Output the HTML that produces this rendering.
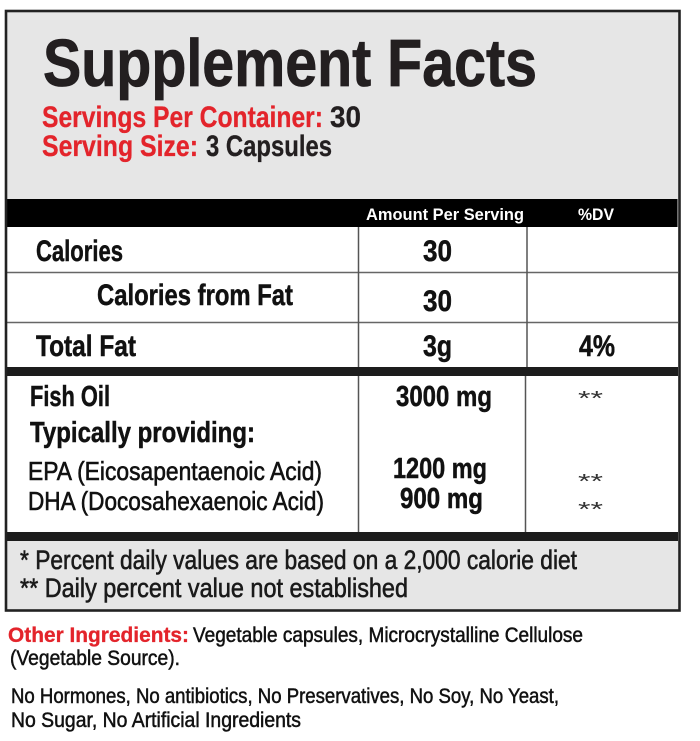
<!DOCTYPE html>
<html>
<head>
<meta charset="utf-8">
<style>
html,body{margin:0;padding:0;background:#fff;}
svg{display:block;}
text{font-family:"Liberation Sans","DejaVu Sans",sans-serif;}
.b{font-weight:bold;}
</style>
</head>
<body>
<svg width="700" height="741" viewBox="0 0 700 741" xmlns="http://www.w3.org/2000/svg">
  <rect x="0" y="0" width="700" height="741" fill="#ffffff"/>
  <rect x="6" y="11" width="673.5" height="599.5" fill="#e6e6e6"/>
  <rect x="7" y="199" width="670.5" height="28" fill="#000"/>
  <rect x="7" y="227" width="671" height="140" fill="#fff"/>
  <rect x="7" y="367" width="671" height="9" fill="#1c1c1c"/>
  <rect x="7" y="376" width="671" height="156" fill="#fff"/>
  <rect x="7" y="532" width="671" height="9" fill="#1c1c1c"/>
  <line x1="7" y1="272.5" x2="678" y2="272.5" stroke="#666" stroke-width="1.5"/>
  <line x1="7" y1="322.5" x2="678" y2="322.5" stroke="#666" stroke-width="1.5"/>
  <line x1="358.5" y1="227" x2="358.5" y2="367" stroke="#555" stroke-width="1.5"/>
  <line x1="527" y1="227" x2="527" y2="367" stroke="#555" stroke-width="1.5"/>
  <line x1="358.5" y1="376" x2="358.5" y2="532" stroke="#555" stroke-width="1.5"/>
  <line x1="525.5" y1="376" x2="525.5" y2="532" stroke="#555" stroke-width="1.5"/>
  <rect x="6" y="11" width="673.5" height="599.5" fill="none" stroke="#222" stroke-width="2.6"/>

  <text class="b" x="43" y="86" font-size="67" fill="#231f20" stroke="#231f20" stroke-width="0.8" textLength="494" lengthAdjust="spacingAndGlyphs">Supplement Facts</text>
  <text class="b" x="42" y="127" font-size="30" fill="#e3242b" stroke="#e3242b" stroke-width="0.3" textLength="281" lengthAdjust="spacingAndGlyphs">Servings Per Container:</text>
  <text class="b" x="330" y="127" font-size="30" fill="#231f20" stroke="#231f20" stroke-width="0.3" textLength="31" lengthAdjust="spacingAndGlyphs">30</text>
  <text class="b" x="42" y="156" font-size="30" fill="#e3242b" stroke="#e3242b" stroke-width="0.3" textLength="156" lengthAdjust="spacingAndGlyphs">Serving Size:</text>
  <text class="b" x="206" y="156" font-size="30" fill="#231f20" stroke="#231f20" stroke-width="0.3" textLength="126" lengthAdjust="spacingAndGlyphs">3 Capsules</text>

  <text class="b" x="366" y="220" font-size="17" fill="#fff" textLength="158" lengthAdjust="spacingAndGlyphs">Amount Per Serving</text>
  <text class="b" x="578" y="220" font-size="17" fill="#fff" textLength="36" lengthAdjust="spacingAndGlyphs">%DV</text>

  <text class="b" x="36" y="261" font-size="30" fill="#111" stroke="#111" stroke-width="0.5" textLength="87" lengthAdjust="spacingAndGlyphs">Calories</text>
  <text class="b" x="423" y="261" font-size="30" fill="#111" stroke="#111" stroke-width="0.5" textLength="29" lengthAdjust="spacingAndGlyphs">30</text>

  <text class="b" x="97" y="305" font-size="30" fill="#111" stroke="#111" stroke-width="0.5" textLength="196" lengthAdjust="spacingAndGlyphs">Calories from Fat</text>
  <text class="b" x="423" y="311" font-size="30" fill="#111" stroke="#111" stroke-width="0.5" textLength="29" lengthAdjust="spacingAndGlyphs">30</text>

  <text class="b" x="36" y="356" font-size="30" fill="#111" stroke="#111" stroke-width="0.5" textLength="100" lengthAdjust="spacingAndGlyphs">Total Fat</text>
  <text class="b" x="423" y="356" font-size="30" fill="#111" stroke="#111" stroke-width="0.5" textLength="29" lengthAdjust="spacingAndGlyphs">3g</text>
  <text class="b" x="579" y="356" font-size="30" fill="#111" stroke="#111" stroke-width="0.5" textLength="36" lengthAdjust="spacingAndGlyphs">4%</text>

  <text class="b" x="30" y="406" font-size="29" fill="#111" stroke="#111" stroke-width="0.5" textLength="80" lengthAdjust="spacingAndGlyphs">Fish Oil</text>
  <text class="b" x="396" y="406" font-size="29" fill="#111" stroke="#111" stroke-width="0.5" textLength="96" lengthAdjust="spacingAndGlyphs">3000 mg</text>
  <text x="578" y="405" font-size="20" fill="#333" textLength="25" lengthAdjust="spacingAndGlyphs">**</text>

  <text class="b" x="30" y="442" font-size="29" fill="#111" stroke="#111" stroke-width="0.5" textLength="225" lengthAdjust="spacingAndGlyphs">Typically providing:</text>

  <text x="28" y="480" font-size="26" fill="#111" stroke="#111" stroke-width="0.6" textLength="294" lengthAdjust="spacingAndGlyphs">EPA (Eicosapentaenoic Acid)</text>
  <text class="b" x="393" y="478" font-size="29" fill="#111" stroke="#111" stroke-width="0.5" textLength="94" lengthAdjust="spacingAndGlyphs">1200 mg</text>
  <text x="578" y="488" font-size="20" fill="#333" textLength="25" lengthAdjust="spacingAndGlyphs">**</text>

  <text x="28" y="510" font-size="26" fill="#111" stroke="#111" stroke-width="0.6" textLength="296" lengthAdjust="spacingAndGlyphs">DHA (Docosahexaenoic Acid)</text>
  <text class="b" x="400" y="508" font-size="29" fill="#111" stroke="#111" stroke-width="0.5" textLength="83" lengthAdjust="spacingAndGlyphs">900 mg</text>
  <text x="578" y="516" font-size="20" fill="#333" textLength="25" lengthAdjust="spacingAndGlyphs">**</text>

  <text x="20" y="569" font-size="27" fill="#1a1a1a" stroke="#1a1a1a" stroke-width="0.6" textLength="557" lengthAdjust="spacingAndGlyphs">* Percent daily values are based on a 2,000 calorie diet</text>
  <text x="20" y="597" font-size="27" fill="#1a1a1a" stroke="#1a1a1a" stroke-width="0.6" textLength="388" lengthAdjust="spacingAndGlyphs">** Daily percent value not established</text>

  <text class="b" x="8" y="642" font-size="21" fill="#e3242b" stroke="#e3242b" stroke-width="0.3" textLength="181" lengthAdjust="spacingAndGlyphs">Other Ingredients:</text>
  <text x="193" y="642" font-size="21" fill="#111" stroke="#111" stroke-width="0.5" textLength="390" lengthAdjust="spacingAndGlyphs">Vegetable capsules, Microcrystalline Cellulose</text>
  <text x="10" y="665" font-size="21" fill="#111" stroke="#111" stroke-width="0.5" textLength="170" lengthAdjust="spacingAndGlyphs">(Vegetable Source).</text>

  <text x="11" y="703" font-size="21" fill="#111" stroke="#111" stroke-width="0.5" textLength="548" lengthAdjust="spacingAndGlyphs">No Hormones, No antibiotics, No Preservatives, No Soy, No Yeast,</text>
  <text x="11" y="727" font-size="21" fill="#111" stroke="#111" stroke-width="0.5" textLength="290" lengthAdjust="spacingAndGlyphs">No Sugar, No Artificial Ingredients</text>
</svg>
</body>
</html>
